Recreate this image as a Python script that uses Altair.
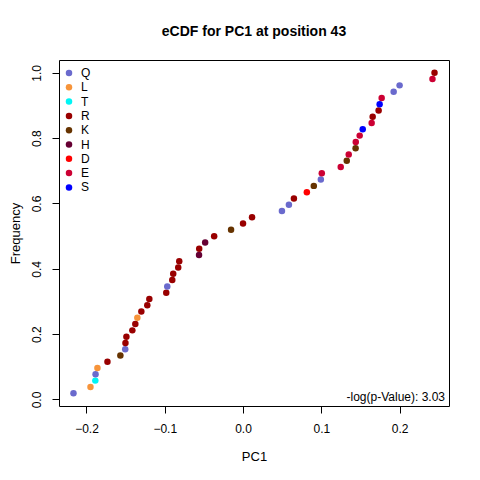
import altair as alt
import pandas as pd

pc1 = [
    -0.2166, -0.1949, -0.1887, -0.1884, -0.1860, -0.1732, -0.1567, -0.1505,
    -0.1502, -0.1490, -0.1414, -0.1376, -0.1350, -0.1299, -0.1223, -0.1197,
    -0.0981, -0.0968, -0.0904, -0.0892, -0.0828, -0.0815, -0.0562, -0.0560,
    -0.0484, -0.0369, -0.0153, 0.0000, 0.0115, 0.0497, 0.0586, 0.0650,
    0.0815, 0.0904, 0.0994, 0.1006, 0.1248, 0.1325, 0.1350, 0.1438,
    0.1440, 0.1490, 0.1529, 0.1643, 0.1656, 0.1732, 0.1745, 0.1771,
    0.1924, 0.2000, 0.2420, 0.2446,
]
residue = [
    "Q", "L", "T", "Q", "L", "R", "K", "Q",
    "R", "R", "R", "R", "L", "R", "R", "R",
    "R", "Q", "R", "R", "R", "R", "H", "R",
    "H", "R", "K", "R", "R", "Q", "Q", "R",
    "D", "K", "Q", "E", "E", "K", "E", "K",
    "E", "E", "S", "E", "R", "R", "S", "E",
    "Q", "Q", "E", "R",
]

legend_order = ["Q", "L", "T", "R", "K", "H", "D", "E", "S"]
legend_colors = ["#6A6ACD", "#F7943A", "#00F5F5", "#990000", "#663300",
                 "#660033", "#FF0000", "#CC0033", "#0000FF"]

x_ticks = [-0.2, -0.1, 0.0, 0.1, 0.2]
y_ticks = [0.0, 0.2, 0.4, 0.6, 0.8, 1.0]
p_label = "-log(p-Value): 3.03"

df = pd.DataFrame({"PC1": pc1, "residue": residue})

W, H = 390, 346
FONT = "Liberation Sans"

points = (
    alt.Chart(df)
    .transform_window(rank="row_number()", sort=[alt.SortField("PC1")])
    .transform_joinaggregate(n="count()")
    .transform_calculate(Frequency="datum.rank / datum.n")
    .mark_circle(size=42, opacity=1)
    .encode(
        x=alt.X("PC1:Q",
                scale=alt.Scale(domain=[-0.2351, 0.2631], nice=False, zero=False),
                axis=alt.Axis(values=x_ticks, format=".1f", title="PC1",
                              labelPadding=10, titlePadding=16)),
        y=alt.Y("Frequency:Q",
                scale=alt.Scale(domain=[-0.0200, 1.0392], nice=False, zero=False),
                axis=alt.Axis(values=y_ticks, format=".1f", title="Frequency",
                              labelAngle=270, labelBaseline="bottom",
                              labelAlign="center", labelPadding=9,
                              titlePadding=8)),
        color=alt.Color("residue:N",
                        scale=alt.Scale(domain=legend_order, range=legend_colors),
                        legend=alt.Legend(title=None, orient="none",
                                          legendX=4, legendY=7,
                                          symbolType="circle", symbolSize=42,
                                          symbolStrokeWidth=0,
                                          labelFontSize=12, labelFont=FONT,
                                          labelColor="black",
                                          labelOffset=6, rowPadding=2.3,
                                          padding=0)),
    )
)

ptext = (
    alt.Chart(pd.DataFrame({"label": [p_label]}))
    .mark_text(align="right", baseline="middle", fontSize=12, font=FONT, color="black")
    .encode(text="label:N", x=alt.value(W - 4), y=alt.value(H - 9))
)

chart = (
    alt.layer(points, ptext)
    .properties(
        width=W, height=H,
        title=alt.TitleParams("eCDF for PC1 at position 43", fontSize=14,
                              font=FONT, fontWeight="bold", color="black",
                              offset=21, anchor="middle"),
        autosize=alt.AutoSizeParams(type="none"),
        padding={"left": 51, "top": 52, "right": 23, "bottom": 66},
        background="white",
    )
    .configure_view(stroke="black", strokeWidth=1)
    .configure_axis(
        grid=False, domain=False, tickColor="black", tickSize=7, tickWidth=1,
        labelFont=FONT, labelFontSize=12, labelColor="black",
        titleFont=FONT, titleFontSize=13, titleFontWeight="normal", titleColor="black",
    )
)

chart.save("out.html", embed_options={"renderer": "svg", "actions": False})
